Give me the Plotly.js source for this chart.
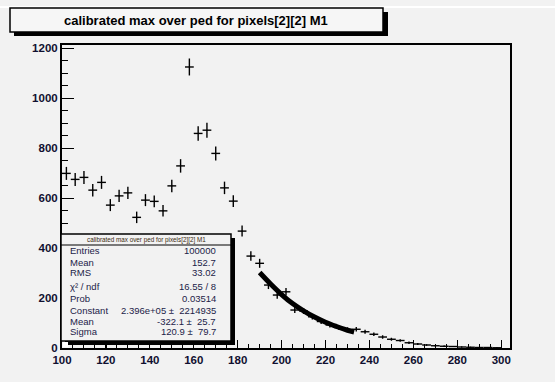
<!DOCTYPE html>
<html>
<head>
<meta charset="utf-8">
<script src="https://cdn.plot.ly/plotly-3.0.1.min.js"></script>
<style>html,body{margin:0;padding:0;background:#f2f2f2;}</style>
</head>
<body>
<div id="chart" style="width:555px;height:382px;"></div>
<script>
// ---- data ----
const binCenters = [102,106,110,114,118,122,126,130,134,138,142,146,150,154,158,162,166,170,174,178,182,
  186,190,194,198,202,206,210,214,218,222,226,230,234,238,242,246,250,254,258,262,266,270,274,278,282,286,290,294,298];
const counts = [699,675,683,632,663,572,609,621,523,592,587,549,649,729,1125,859,872,779,641,588,468,
  368,339,252,212,225,152,148,125,106,92,82,74,75,65,55,44,35,30,21,16,12,9,7,6,4,3,2,2,1];
const countErrors = [26,26,26,25,26,24,25,25,23,24,24,23,25,27,34,29,30,28,25,24,22,
  19,18,16,15,15,12,12,11,10,10,9,9,9,8,7,7,6,5,5,4,3,3,3,2,2,2,1,1,1];
const binHalfWidth = 2;
const fitX = [190,195,200,205,210,215,220,225,230,233];
const fitY = [302,256,214,178,149,124,103,86,71,64];
const titleText = "calibrated max over ped for pixels[2][2] M1";
const statLabels = ["Entries","Mean","RMS","\u03c7\u00b2 / ndf","Prob","Constant","Mean","Sigma"];
const statValues = ["100000","152.7","33.02","16.55 / 8","0.03514","2.396e+05 \u00b1  2214935","-322.1 \u00b1  25.7","120.9 \u00b1  79.7"];
const xTickVals = [100,120,140,160,180,200,220,240,260,280,300];
const yTickVals = [0,200,400,600,800,1000,1200];

// ---- layout helpers (pixel -> paper) ----
const L = 62, R = 510, T = 45, B = 348;
const px = x => (x - L) / (R - L);
const py = y => (B - y) / (B - T);
const font = "Liberation Sans, Arial, Helvetica, sans-serif";

const traces = [
  {
    type: "scatter", mode: "markers",
    x: binCenters, y: counts,
    marker: {size: 1, color: "black"},
    error_x: {type: "constant", value: binHalfWidth, width: 0, thickness: 1.4, color: "black"},
    error_y: {type: "data", array: countErrors, visible: true, width: 0, thickness: 1.4, color: "black"},
    hoverinfo: "skip", showlegend: false
  },
  {
    type: "scatter", mode: "lines",
    x: fitX, y: fitY,
    line: {color: "black", width: 5, shape: "spline"},
    hoverinfo: "skip", showlegend: false
  }
];

const shapes = [
  {type: "line", xref: "paper", yref: "paper", x0: px(0), x1: px(555), y0: py(7), y1: py(7), line: {color: "#ffffff", width: 2}},
  {type: "rect", xref: "paper", yref: "paper", x0: px(14), x1: px(388), y0: py(12), y1: py(36), fillcolor: "black", line: {width: 0}},
  {type: "rect", xref: "paper", yref: "paper", x0: px(10), x1: px(383), y0: py(8), y1: py(32), fillcolor: "#f6f6f6", line: {color: "black", width: 1.5}},
  {type: "rect", xref: "paper", yref: "paper", x0: px(65), x1: px(235), y0: py(238), y1: py(345), fillcolor: "black", line: {width: 0}},
  {type: "rect", xref: "paper", yref: "paper", x0: px(61), x1: px(231), y0: py(234), y1: py(341), fillcolor: "#f2f2f2", line: {color: "black", width: 1.5}},
  {type: "line", xref: "paper", yref: "paper", x0: px(61), x1: px(231), y0: py(245), y1: py(245), line: {color: "black", width: 1.2}},
  {type: "rect", xref: "paper", yref: "paper", x0: px(63), x1: px(68), y0: py(342), y1: py(347), fillcolor: "#ffffff", line: {width: 0}}
];

const rowY = [250.7, 262.2, 272.3, 286, 298.5, 310, 321.2, 331];
const annotations = [
  {xref: "paper", yref: "paper", x: px(196), y: py(20), xanchor: "center", yanchor: "middle", showarrow: false,
   text: titleText, font: {family: font, size: 13, color: "black", weight: "bold"}},
  {xref: "paper", yref: "paper", x: px(146), y: py(239.7), xanchor: "center", yanchor: "middle", showarrow: false,
   text: titleText, font: {family: font, size: 6.3, color: "#3a2a10"}}
];
statLabels.forEach((lab, i) => {
  annotations.push({xref: "paper", yref: "paper", x: px(68), y: py(rowY[i]), xanchor: "left", yanchor: "middle", showarrow: false,
    text: lab, font: {family: font, size: 9.5, color: "#1c1c48"}});
  annotations.push({xref: "paper", yref: "paper", x: px(218), y: py(rowY[i]), xanchor: "right", yanchor: "middle", showarrow: false,
    text: statValues[i], font: {family: font, size: 9.5, color: "#1c1c48"}});
});

const layout = {
  width: 555, height: 382,
  margin: {l: L, r: 555 - R, t: T, b: 382 - B, pad: 0},
  paper_bgcolor: "#f2f2f2", plot_bgcolor: "#f2f2f2",
  showlegend: false,
  xaxis: {
    range: [100, 304], tickvals: xTickVals, ticks: "inside", ticklen: 8, tickwidth: 1.2, tickcolor: "black",
    minor: {dtick: 5, tick0: 100, ticks: "inside", ticklen: 4, tickwidth: 1, tickcolor: "black", showgrid: false},
    showline: true, linecolor: "black", linewidth: 2, mirror: true, showgrid: false, zeroline: false,
    tickfont: {family: font, size: 11.5, color: "#101030", weight: "bold"}
  },
  yaxis: {
    range: [0, 1213], tickvals: yTickVals, ticks: "inside", ticklen: 12, tickwidth: 1.2, tickcolor: "black",
    minor: {dtick: 50, tick0: 0, ticks: "inside", ticklen: 6, tickwidth: 1, tickcolor: "black", showgrid: false},
    showline: true, linecolor: "black", linewidth: 2, mirror: true, showgrid: false, zeroline: false,
    tickfont: {family: font, size: 11.5, color: "#101030", weight: "bold"}
  },
  shapes: shapes,
  annotations: annotations
};

Plotly.newPlot("chart", traces, layout, {displayModeBar: false, staticPlot: true});
</script>
</body>
</html>
